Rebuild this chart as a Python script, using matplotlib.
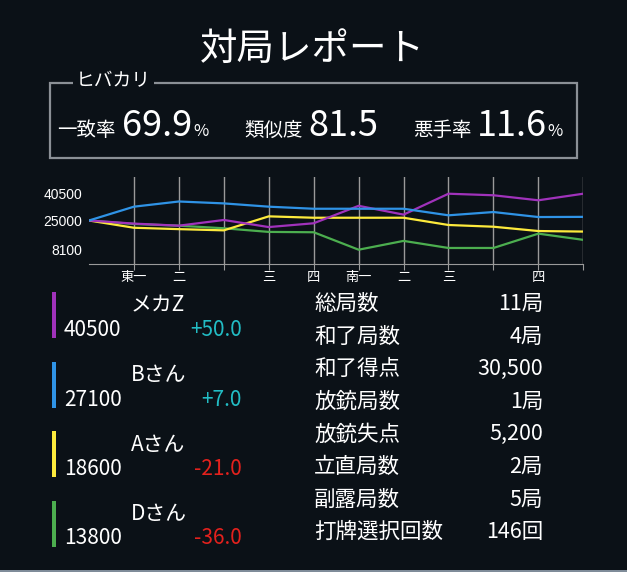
import matplotlib.pyplot as plt
from matplotlib.patches import Rectangle

plt.rcParams['font.family'] = ['Noto Sans CJK JP', 'DejaVu Sans']

W, H = 627, 572
BG = '#0b1117'

# Score history (start + 11 hands)
names = ['メカZ', 'Bさん', 'Aさん', 'Dさん']
scores_mecha = [25000, 23200, 22000, 25300, 21200, 23400, 33500, 28400, 40500, 39600, 36700, 40500]
scores_b = [25000, 33000, 36000, 34900, 33000, 31800, 31800, 31800, 28000, 29900, 27000, 27100]
scores_a = [25000, 20800, 20000, 19300, 27400, 26600, 26600, 26600, 22400, 21400, 18900, 18600]
scores_d = [25000, 23000, 22000, 20500, 18400, 18200, 8100, 13200, 9100, 9100, 17400, 13800]
hand_labels = ['東一', '二', '', '三', '四', '南一', '二', '三', '', '四', '']
y_ticks = [8100, 25000, 40500]

final_scores = ['40500', '27100', '18600', '13800']
deltas = ['+50.0', '+7.0', '-21.0', '-36.0']
colors = ['#a032bb', '#2f93e6', '#fdea3c', '#4cae4f']

# Summary box
player = 'ヒバカリ'
metric_names = ['一致率', '類似度', '悪手率']
metric_values = ['69.9', '81.5', '11.6']
metric_units = ['%', '', '%']

stat_labels = ['総局数', '和了局数', '和了得点', '放銃局数', '放銃失点', '立直局数', '副露局数', '打牌選択回数']
stat_values = ['11局', '4局', '30,500', '1局', '5,200', '2局', '5局', '146回']


def px(x, y):
    return x / W, 1 - y / H


fig = plt.figure(figsize=(W / 100, H / 100), dpi=100, facecolor=BG)

# title
fig.text(*px(312, 49), '対局レポート', color='white', fontsize=27, ha='center', va='center')

# summary box
fig.patches.append(Rectangle(px(50, 158), 527 / W, 75 / H, transform=fig.transFigure,
                             fill=False, edgecolor='#8b9096', linewidth=1.6))
fig.text(*px(76, 81), player, color='white', fontsize=13.5, ha='left', va='center',
         bbox=dict(facecolor=BG, edgecolor='none', pad=2))

name_x = [57, 244, 413]
value_x = [122, 308, 477]
unit_x = [193, 0, 547]
for i in range(3):
    fig.text(*px(name_x[i], 136), metric_names[i], color='white', fontsize=14, ha='left', va='baseline')
    fig.text(*px(value_x[i], 136), metric_values[i], color='white', fontsize=26, ha='left', va='baseline')
    if metric_units[i]:
        fig.text(*px(unit_x[i], 136), metric_units[i], color='white', fontsize=12, ha='left', va='baseline')

# score chart
ax = fig.add_axes([89 / W, 1 - 263.7 / H, (583.3 - 89) / W, (263.7 - 177.3) / H])
ax.set_facecolor(BG)
x = list(range(len(scores_mecha)))
ax.plot(x, scores_d, color=colors[3], lw=1.6)
ax.plot(x, scores_a, color=colors[2], lw=1.6)
ax.plot(x, scores_mecha, color=colors[0], lw=1.6)
ax.plot(x, scores_b, color=colors[1], lw=1.6)
ax.set_xlim(0, len(x) - 1)
ax.set_ylim(0, 50000)
ax.set_xticks(range(1, len(x)))
ax.set_xticklabels(hand_labels, fontsize=9.5, color='white')
ax.set_yticks(y_ticks)
ax.set_yticklabels([str(v) for v in y_ticks], fontsize=10, color='white', family='Liberation Sans')
ax.tick_params(axis='y', length=0, pad=5)
ax.tick_params(axis='x', length=4, color='#9a9a9a', pad=1.5)
ax.grid(axis='x', color='#9a9a9a', lw=1)
for s in ['top', 'left', 'right']:
    ax.spines[s].set_visible(False)
ax.spines['bottom'].set_color('#9a9a9a')

# player legend
for i in range(4):
    top = 292 + i * 69.5
    fig.patches.append(Rectangle(px(52, top + 46), 4 / W, 46 / H, transform=fig.transFigure,
                                 facecolor=colors[i], edgecolor='none'))
    fig.text(*px(131, top + 13.5), names[i], color='white', fontsize=15, ha='left', va='center')
    fig.text(*px(64, top + 38), final_scores[i], color='white', fontsize=15, ha='left', va='center')
    dcol = '#22bcc4' if deltas[i].startswith('+') else '#e3211d'
    fig.text(*px(242, top + 38), deltas[i], color=dcol, fontsize=15, ha='right', va='center')

# stats table
for i, (lab, val) in enumerate(zip(stat_labels, stat_values)):
    y = 304 + i * 32.6
    fig.text(*px(314, y), lab, color='white', fontsize=15.5, ha='left', va='center')
    fig.text(*px(543, y), val, color='white', fontsize=15.5, ha='right', va='center')

# bottom strip
fig.patches.append(Rectangle((0, 0), 1, 2.5 / H, transform=fig.transFigure,
                             facecolor='#7f8c99', edgecolor='none'))

fig.savefig('out.png', dpi=100, facecolor=BG)
